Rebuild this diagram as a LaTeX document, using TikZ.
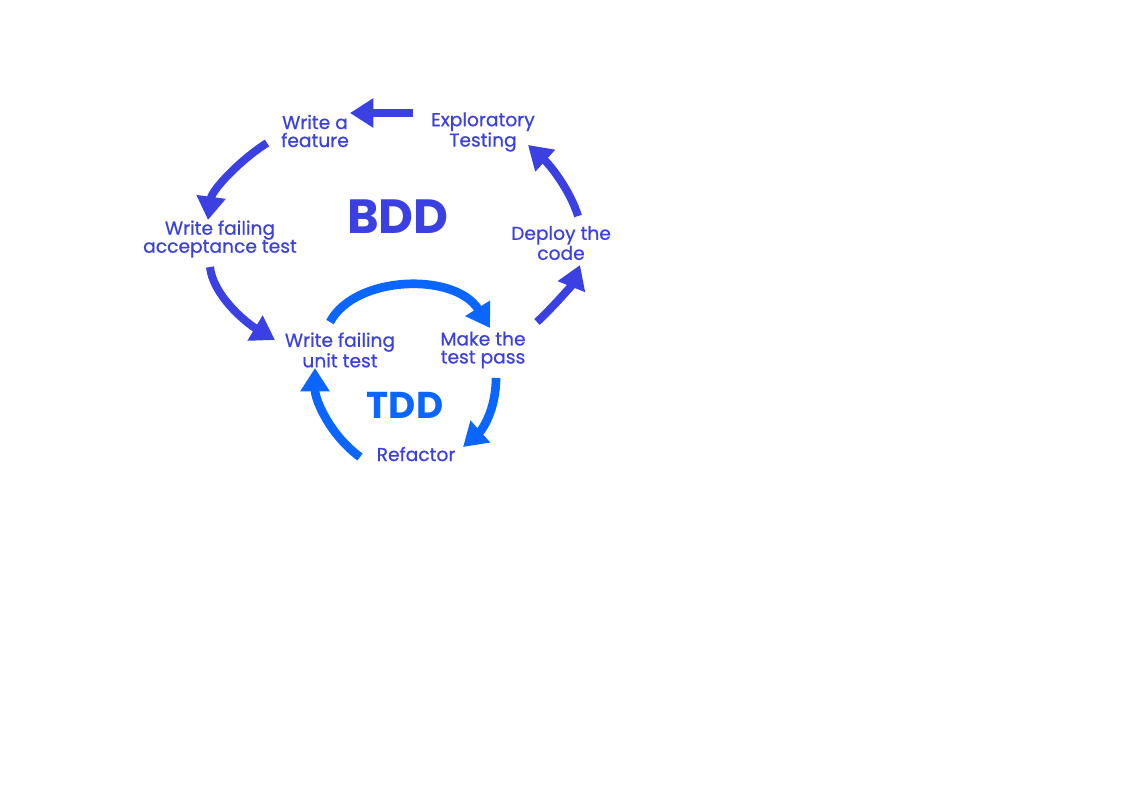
\documentclass[tikz,border=0pt]{standalone}
\usepackage{fontspec}
\setmainfont{Poppins}
\newfontfamily\lblfont{Poppins}[FakeBold=0.6]
\usetikzlibrary{arrows.meta}
\definecolor{bddc}{HTML}{3A40E2}
\definecolor{tddc}{HTML}{0A66FF}
\tikzset{
  lbl/.style={text=bddc, align=center, inner sep=0pt, font=\lblfont\fontsize{14}{13.5}\selectfont},
  bigl/.style={inner sep=0pt, font=\fontsize{36}{40}\selectfont\bfseries},
  bddarrow/.style={draw=bddc, line width=6pt, -{Triangle[length=17.5pt,width=21pt]}},
  tddarrow/.style={draw=tddc, line width=6.5pt, -{Triangle[length=17.5pt,width=21pt]}},
}
\begin{document}
\begin{tikzpicture}[x=0.75pt,y=-0.75pt]
\useasboundingbox (0,0) rectangle (1123,794);
% labels
\node[lbl] (feat) at (315,131) {Write a\\feature};
\node[lbl] (expl) at (483,132) {Exploratory\\Testing};
\node[lbl] (acc) at (220,239) {Write failing\\acceptance test};
\node[lbl] (depl) at (561,243) {Deploy the\\code};
\node[lbl] (unit) at (340,350) {Write failing\\unit test};
\node[lbl] (pass) at (483,350) {Make the\\test pass};
\node[lbl] (refa) at (416,454) {Refactor};
\node[bigl, text=bddc] (bdd) at (398,217) {BDD};
\node[bigl, text=tddc, font=\fontsize{28}{32}\selectfont\bfseries] (tdd) at (405,405) {TDD};
% arrow endpoints
\coordinate (e1s) at (413,113);
\coordinate (e1t) at (350,113);
\coordinate (e2s) at (267,143);
\coordinate (e2t) at (208,220);
\coordinate (e3s) at (210,267);
\coordinate (e3t) at (275,340);
\coordinate (e4s) at (537,322);
\coordinate (e4t) at (580,265);
\coordinate (e5s) at (578,216);
\coordinate (e5t) at (528,145);
\coordinate (t1s) at (330,322);
\coordinate (t1t) at (490,328);
\coordinate (t2s) at (496,378);
\coordinate (t2t) at (463,447);
\coordinate (t3s) at (360,457);
\coordinate (t3t) at (315,368);
% BDD cycle
\draw[bddarrow] (e1s) -- (e1t);
\draw[bddarrow] (e2s) .. controls (240,160) and (212,190) .. (e2t);
\draw[bddarrow] (e3s) .. controls (213,295) and (245,322) .. (e3t);
\draw[bddarrow] (e4s) .. controls (555,305) and (572,285) .. (e4t);
\draw[bddarrow] (e5s) .. controls (570,190) and (550,165) .. (e5t);
% TDD cycle
\draw[tddarrow] (t1s) .. controls (355,275) and (455,272) .. (t1t);
\draw[tddarrow] (t2s) .. controls (496,410) and (482,430) .. (t2t);
\draw[tddarrow] (t3s) .. controls (330,435) and (315,400) .. (t3t);
\end{tikzpicture}
\end{document}
